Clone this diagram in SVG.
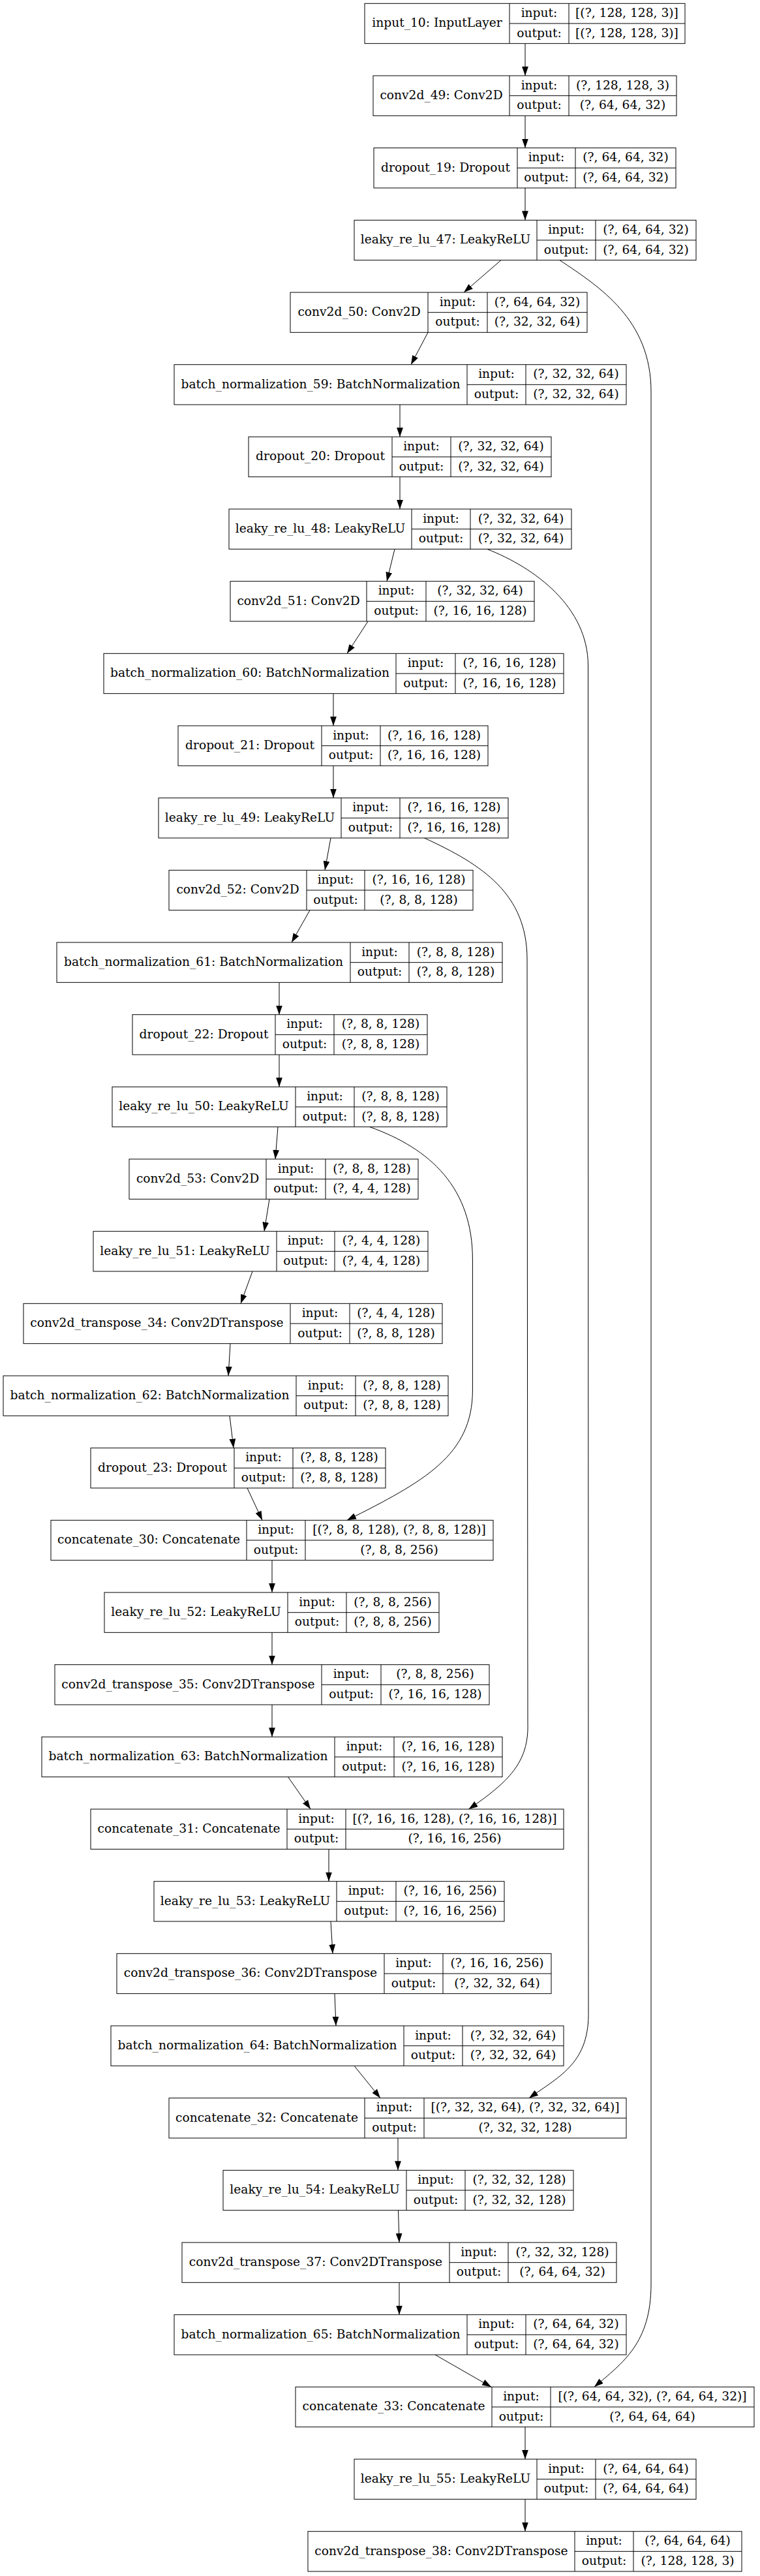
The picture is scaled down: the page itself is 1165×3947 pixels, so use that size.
<svg xmlns="http://www.w3.org/2000/svg" width="1165" height="3947" viewBox="0 0 1165 3947">
<style>
.b{fill:#fff;stroke:#000;stroke-width:1}
.d{fill:none;stroke:#000;stroke-width:1}
.t{font-family:"DejaVu Serif","Liberation Serif",serif;font-size:18.67px;text-anchor:middle;fill:#000}
.e{fill:none;stroke:#000;stroke-width:1;marker-end:url(#ah)}
</style>
<defs>
<marker id="ah" markerUnits="userSpaceOnUse" markerWidth="14" markerHeight="10" viewBox="0 0 13.33 9.33" refX="13.33" refY="4.67" orient="auto">
<path d="M0,0 L13.33,4.67 L0,9.33 z" fill="#000"/>
</marker>
</defs>
<rect width="1165" height="3947" fill="#fff"/>

<g id="edges">
<path class="e" d="M805 66.67V116"/>
<path class="e" d="M805 177.33V226.67"/>
<path class="e" d="M805 288V337.33"/>
<path class="e" d="M768 398.67L711 448"/>
<path class="e" d="M656 509.33L630 558.67"/>
<path class="e" d="M613 620V669.33"/>
<path class="e" d="M613 730.67V780"/>
<path class="e" d="M605 841.33L593 890.67"/>
<path class="e" d="M564 952L532 1001.33"/>
<path class="e" d="M511 1062.67V1112"/>
<path class="e" d="M511 1173.33V1222.67"/>
<path class="e" d="M507 1284L498 1333.33"/>
<path class="e" d="M475 1394.67L447 1444"/>
<path class="e" d="M428 1505.33V1554.67"/>
<path class="e" d="M428 1616V1665.33"/>
<path class="e" d="M426 1726.67L422 1776"/>
<path class="e" d="M413 1837.33L405 1886.67"/>
<path class="e" d="M387 1948L369 1997.33"/>
<path class="e" d="M353 2058.67L350 2108"/>
<path class="e" d="M352 2169.33L358 2218.67"/>
<path class="e" d="M379 2280L402 2329.33"/>
<path class="e" d="M417 2390.67V2440"/>
<path class="e" d="M417 2501.33V2550.67"/>
<path class="e" d="M417 2612V2661.33"/>
<path class="e" d="M441.5 2722.67L476 2772"/>
<path class="e" d="M504 2833.33V2882.67"/>
<path class="e" d="M507 2944L510 2993.33"/>
<path class="e" d="M513 3054.67L515 3104"/>
<path class="e" d="M543 3165.33L583 3214.67"/>
<path class="e" d="M610 3276V3325.33"/>
<path class="e" d="M610.5 3386.67L612 3436"/>
<path class="e" d="M612 3497.33V3546.67"/>
<path class="e" d="M667 3608L753 3657.33"/>
<path class="e" d="M805 3718.67V3768"/>
<path class="e" d="M805 3829.33V3878.67"/>
<path class="e" d="M858 398.67C920 440 998 490 998 600L998 3500C998 3590 955 3620 911 3657.33"/>
<path class="e" d="M746.7 841.33C820 870 901.5 930 901.5 1020L902 3080C904 3160 860 3180 811 3214.67"/>
<path class="e" d="M650.4 1284C740 1325 808 1370 808 1470L809 2640C811 2700 780 2730 718.5 2772"/>
<path class="e" d="M566.7 1726.67C660 1760 724.4 1820 724.4 1930L724.4 2130C724.4 2230 650 2270 532 2329.33"/>
</g>

<g id="input_10" transform="translate(0,5.33)"><rect class="b" x="559" y="0" width="491" height="61.33"/><path class="d" d="M781 0V61.33M872 0V61.33M781 30.67H1050"/><text class="t" x="670" y="36">input_10: InputLayer</text><text class="t" x="826.5" y="20.6">input:</text><text class="t" x="826.5" y="51.3">output:</text><text class="t" x="961" y="20.6">[(?, 128, 128, 3)]</text><text class="t" x="961" y="51.3">[(?, 128, 128, 3)]</text></g>
<g id="conv2d_49" transform="translate(0,116)"><rect class="b" x="572" y="0" width="465" height="61.33"/><path class="d" d="M781 0V61.33M872 0V61.33M781 30.67H1037"/><text class="t" x="676.5" y="36">conv2d_49: Conv2D</text><text class="t" x="826.5" y="20.6">input:</text><text class="t" x="826.5" y="51.3">output:</text><text class="t" x="954.5" y="20.6">(?, 128, 128, 3)</text><text class="t" x="954.5" y="51.3">(?, 64, 64, 32)</text></g>
<g id="dropout_19" transform="translate(0,226.67)"><rect class="b" x="573" y="0" width="463" height="61.33"/><path class="d" d="M793 0V61.33M882 0V61.33M793 30.67H1036"/><text class="t" x="683" y="36">dropout_19: Dropout</text><text class="t" x="837.5" y="20.6">input:</text><text class="t" x="837.5" y="51.3">output:</text><text class="t" x="959" y="20.6">(?, 64, 64, 32)</text><text class="t" x="959" y="51.3">(?, 64, 64, 32)</text></g>
<g id="leaky_re_lu_47" transform="translate(0,337.33)"><rect class="b" x="543" y="0" width="524" height="61.33"/><path class="d" d="M823 0V61.33M913 0V61.33M823 30.67H1067"/><text class="t" x="683" y="36">leaky_re_lu_47: LeakyReLU</text><text class="t" x="868" y="20.6">input:</text><text class="t" x="868" y="51.3">output:</text><text class="t" x="990" y="20.6">(?, 64, 64, 32)</text><text class="t" x="990" y="51.3">(?, 64, 64, 32)</text></g>
<g id="conv2d_50" transform="translate(0,448)"><rect class="b" x="445" y="0" width="455" height="61.33"/><path class="d" d="M656 0V61.33M747 0V61.33M656 30.67H900"/><text class="t" x="550.5" y="36">conv2d_50: Conv2D</text><text class="t" x="701.5" y="20.6">input:</text><text class="t" x="701.5" y="51.3">output:</text><text class="t" x="823.5" y="20.6">(?, 64, 64, 32)</text><text class="t" x="823.5" y="51.3">(?, 32, 32, 64)</text></g>
<g id="batch_normalization_59" transform="translate(0,558.67)"><rect class="b" x="267" y="0" width="693" height="61.33"/><path class="d" d="M716 0V61.33M806 0V61.33M716 30.67H960"/><text class="t" x="491.5" y="36">batch_normalization_59: BatchNormalization</text><text class="t" x="761" y="20.6">input:</text><text class="t" x="761" y="51.3">output:</text><text class="t" x="883" y="20.6">(?, 32, 32, 64)</text><text class="t" x="883" y="51.3">(?, 32, 32, 64)</text></g>
<g id="dropout_20" transform="translate(0,669.33)"><rect class="b" x="381" y="0" width="464" height="61.33"/><path class="d" d="M601 0V61.33M691 0V61.33M601 30.67H845"/><text class="t" x="491" y="36">dropout_20: Dropout</text><text class="t" x="646" y="20.6">input:</text><text class="t" x="646" y="51.3">output:</text><text class="t" x="768" y="20.6">(?, 32, 32, 64)</text><text class="t" x="768" y="51.3">(?, 32, 32, 64)</text></g>
<g id="leaky_re_lu_48" transform="translate(0,780)"><rect class="b" x="351" y="0" width="525" height="61.33"/><path class="d" d="M631 0V61.33M721 0V61.33M631 30.67H876"/><text class="t" x="491" y="36">leaky_re_lu_48: LeakyReLU</text><text class="t" x="676" y="20.6">input:</text><text class="t" x="676" y="51.3">output:</text><text class="t" x="798.5" y="20.6">(?, 32, 32, 64)</text><text class="t" x="798.5" y="51.3">(?, 32, 32, 64)</text></g>
<g id="conv2d_51" transform="translate(0,890.67)"><rect class="b" x="353" y="0" width="466" height="61.33"/><path class="d" d="M562 0V61.33M653 0V61.33M562 30.67H819"/><text class="t" x="457.5" y="36">conv2d_51: Conv2D</text><text class="t" x="607.5" y="20.6">input:</text><text class="t" x="607.5" y="51.3">output:</text><text class="t" x="736" y="20.6">(?, 32, 32, 64)</text><text class="t" x="736" y="51.3">(?, 16, 16, 128)</text></g>
<g id="batch_normalization_60" transform="translate(0,1001.33)"><rect class="b" x="159" y="0" width="705" height="61.33"/><path class="d" d="M607 0V61.33M698 0V61.33M607 30.67H864"/><text class="t" x="383" y="36">batch_normalization_60: BatchNormalization</text><text class="t" x="652.5" y="20.6">input:</text><text class="t" x="652.5" y="51.3">output:</text><text class="t" x="781" y="20.6">(?, 16, 16, 128)</text><text class="t" x="781" y="51.3">(?, 16, 16, 128)</text></g>
<g id="dropout_21" transform="translate(0,1112)"><rect class="b" x="273" y="0" width="475" height="61.33"/><path class="d" d="M493 0V61.33M583 0V61.33M493 30.67H748"/><text class="t" x="383" y="36">dropout_21: Dropout</text><text class="t" x="538" y="20.6">input:</text><text class="t" x="538" y="51.3">output:</text><text class="t" x="665.5" y="20.6">(?, 16, 16, 128)</text><text class="t" x="665.5" y="51.3">(?, 16, 16, 128)</text></g>
<g id="leaky_re_lu_49" transform="translate(0,1222.67)"><rect class="b" x="243" y="0" width="536" height="61.33"/><path class="d" d="M523 0V61.33M613 0V61.33M523 30.67H779"/><text class="t" x="383" y="36">leaky_re_lu_49: LeakyReLU</text><text class="t" x="568" y="20.6">input:</text><text class="t" x="568" y="51.3">output:</text><text class="t" x="696" y="20.6">(?, 16, 16, 128)</text><text class="t" x="696" y="51.3">(?, 16, 16, 128)</text></g>
<g id="conv2d_52" transform="translate(0,1333.33)"><rect class="b" x="259" y="0" width="466" height="61.33"/><path class="d" d="M470 0V61.33M559 0V61.33M470 30.67H725"/><text class="t" x="364.5" y="36">conv2d_52: Conv2D</text><text class="t" x="514.5" y="20.6">input:</text><text class="t" x="514.5" y="51.3">output:</text><text class="t" x="642" y="20.6">(?, 16, 16, 128)</text><text class="t" x="642" y="51.3">(?, 8, 8, 128)</text></g>
<g id="batch_normalization_61" transform="translate(0,1444)"><rect class="b" x="87" y="0" width="683" height="61.33"/><path class="d" d="M537 0V61.33M627 0V61.33M537 30.67H770"/><text class="t" x="312" y="36">batch_normalization_61: BatchNormalization</text><text class="t" x="582" y="20.6">input:</text><text class="t" x="582" y="51.3">output:</text><text class="t" x="698.5" y="20.6">(?, 8, 8, 128)</text><text class="t" x="698.5" y="51.3">(?, 8, 8, 128)</text></g>
<g id="dropout_22" transform="translate(0,1554.67)"><rect class="b" x="203" y="0" width="452" height="61.33"/><path class="d" d="M422 0V61.33M512 0V61.33M422 30.67H655"/><text class="t" x="312.5" y="36">dropout_22: Dropout</text><text class="t" x="467" y="20.6">input:</text><text class="t" x="467" y="51.3">output:</text><text class="t" x="583.5" y="20.6">(?, 8, 8, 128)</text><text class="t" x="583.5" y="51.3">(?, 8, 8, 128)</text></g>
<g id="leaky_re_lu_50" transform="translate(0,1665.33)"><rect class="b" x="172" y="0" width="513" height="61.33"/><path class="d" d="M453 0V61.33M543 0V61.33M453 30.67H685"/><text class="t" x="312.5" y="36">leaky_re_lu_50: LeakyReLU</text><text class="t" x="498" y="20.6">input:</text><text class="t" x="498" y="51.3">output:</text><text class="t" x="614" y="20.6">(?, 8, 8, 128)</text><text class="t" x="614" y="51.3">(?, 8, 8, 128)</text></g>
<g id="conv2d_53" transform="translate(0,1776)"><rect class="b" x="198" y="0" width="443" height="61.33"/><path class="d" d="M408 0V61.33M499 0V61.33M408 30.67H641"/><text class="t" x="303" y="36">conv2d_53: Conv2D</text><text class="t" x="453.5" y="20.6">input:</text><text class="t" x="453.5" y="51.3">output:</text><text class="t" x="570" y="20.6">(?, 8, 8, 128)</text><text class="t" x="570" y="51.3">(?, 4, 4, 128)</text></g>
<g id="leaky_re_lu_51" transform="translate(0,1886.67)"><rect class="b" x="143" y="0" width="513" height="61.33"/><path class="d" d="M424 0V61.33M513 0V61.33M424 30.67H656"/><text class="t" x="283.5" y="36">leaky_re_lu_51: LeakyReLU</text><text class="t" x="468.5" y="20.6">input:</text><text class="t" x="468.5" y="51.3">output:</text><text class="t" x="584.5" y="20.6">(?, 4, 4, 128)</text><text class="t" x="584.5" y="51.3">(?, 4, 4, 128)</text></g>
<g id="conv2d_transpose_34" transform="translate(0,1997.33)"><rect class="b" x="36" y="0" width="642" height="61.33"/><path class="d" d="M445 0V61.33M536 0V61.33M445 30.67H678"/><text class="t" x="240.5" y="36">conv2d_transpose_34: Conv2DTranspose</text><text class="t" x="490.5" y="20.6">input:</text><text class="t" x="490.5" y="51.3">output:</text><text class="t" x="607" y="20.6">(?, 4, 4, 128)</text><text class="t" x="607" y="51.3">(?, 8, 8, 128)</text></g>
<g id="batch_normalization_62" transform="translate(0,2108)"><rect class="b" x="5" y="0" width="682" height="61.33"/><path class="d" d="M454 0V61.33M545 0V61.33M454 30.67H687"/><text class="t" x="229.5" y="36">batch_normalization_62: BatchNormalization</text><text class="t" x="499.5" y="20.6">input:</text><text class="t" x="499.5" y="51.3">output:</text><text class="t" x="616" y="20.6">(?, 8, 8, 128)</text><text class="t" x="616" y="51.3">(?, 8, 8, 128)</text></g>
<g id="dropout_23" transform="translate(0,2218.67)"><rect class="b" x="139" y="0" width="452" height="61.33"/><path class="d" d="M359 0V61.33M449 0V61.33M359 30.67H591"/><text class="t" x="249" y="36">dropout_23: Dropout</text><text class="t" x="404" y="20.6">input:</text><text class="t" x="404" y="51.3">output:</text><text class="t" x="520" y="20.6">(?, 8, 8, 128)</text><text class="t" x="520" y="51.3">(?, 8, 8, 128)</text></g>
<g id="concatenate_30" transform="translate(0,2329.33)"><rect class="b" x="78" y="0" width="678" height="61.33"/><path class="d" d="M378 0V61.33M468 0V61.33M378 30.67H756"/><text class="t" x="228" y="36">concatenate_30: Concatenate</text><text class="t" x="423" y="20.6">input:</text><text class="t" x="423" y="51.3">output:</text><text class="t" x="612" y="20.6">[(?, 8, 8, 128), (?, 8, 8, 128)]</text><text class="t" x="612" y="51.3">(?, 8, 8, 256)</text></g>
<g id="leaky_re_lu_52" transform="translate(0,2440)"><rect class="b" x="160" y="0" width="513" height="61.33"/><path class="d" d="M441 0V61.33M531 0V61.33M441 30.67H673"/><text class="t" x="300.5" y="36">leaky_re_lu_52: LeakyReLU</text><text class="t" x="486" y="20.6">input:</text><text class="t" x="486" y="51.3">output:</text><text class="t" x="602" y="20.6">(?, 8, 8, 256)</text><text class="t" x="602" y="51.3">(?, 8, 8, 256)</text></g>
<g id="conv2d_transpose_35" transform="translate(0,2550.67)"><rect class="b" x="84" y="0" width="666" height="61.33"/><path class="d" d="M493 0V61.33M584 0V61.33M493 30.67H750"/><text class="t" x="288.5" y="36">conv2d_transpose_35: Conv2DTranspose</text><text class="t" x="538.5" y="20.6">input:</text><text class="t" x="538.5" y="51.3">output:</text><text class="t" x="667" y="20.6">(?, 8, 8, 256)</text><text class="t" x="667" y="51.3">(?, 16, 16, 128)</text></g>
<g id="batch_normalization_63" transform="translate(0,2661.33)"><rect class="b" x="64" y="0" width="706" height="61.33"/><path class="d" d="M513 0V61.33M604 0V61.33M513 30.67H770"/><text class="t" x="288.5" y="36">batch_normalization_63: BatchNormalization</text><text class="t" x="558.5" y="20.6">input:</text><text class="t" x="558.5" y="51.3">output:</text><text class="t" x="687" y="20.6">(?, 16, 16, 128)</text><text class="t" x="687" y="51.3">(?, 16, 16, 128)</text></g>
<g id="concatenate_31" transform="translate(0,2772)"><rect class="b" x="139" y="0" width="725" height="61.33"/><path class="d" d="M440 0V61.33M530 0V61.33M440 30.67H864"/><text class="t" x="289.5" y="36">concatenate_31: Concatenate</text><text class="t" x="485" y="20.6">input:</text><text class="t" x="485" y="51.3">output:</text><text class="t" x="697" y="20.6">[(?, 16, 16, 128), (?, 16, 16, 128)]</text><text class="t" x="697" y="51.3">(?, 16, 16, 256)</text></g>
<g id="leaky_re_lu_53" transform="translate(0,2882.67)"><rect class="b" x="236" y="0" width="537" height="61.33"/><path class="d" d="M516 0V61.33M607 0V61.33M516 30.67H773"/><text class="t" x="376" y="36">leaky_re_lu_53: LeakyReLU</text><text class="t" x="561.5" y="20.6">input:</text><text class="t" x="561.5" y="51.3">output:</text><text class="t" x="690" y="20.6">(?, 16, 16, 256)</text><text class="t" x="690" y="51.3">(?, 16, 16, 256)</text></g>
<g id="conv2d_transpose_36" transform="translate(0,2993.33)"><rect class="b" x="179" y="0" width="666" height="61.33"/><path class="d" d="M589 0V61.33M679 0V61.33M589 30.67H845"/><text class="t" x="384" y="36">conv2d_transpose_36: Conv2DTranspose</text><text class="t" x="634" y="20.6">input:</text><text class="t" x="634" y="51.3">output:</text><text class="t" x="762" y="20.6">(?, 16, 16, 256)</text><text class="t" x="762" y="51.3">(?, 32, 32, 64)</text></g>
<g id="batch_normalization_64" transform="translate(0,3104)"><rect class="b" x="170" y="0" width="694" height="61.33"/><path class="d" d="M619 0V61.33M709 0V61.33M619 30.67H864"/><text class="t" x="394.5" y="36">batch_normalization_64: BatchNormalization</text><text class="t" x="664" y="20.6">input:</text><text class="t" x="664" y="51.3">output:</text><text class="t" x="786.5" y="20.6">(?, 32, 32, 64)</text><text class="t" x="786.5" y="51.3">(?, 32, 32, 64)</text></g>
<g id="concatenate_32" transform="translate(0,3214.67)"><rect class="b" x="259" y="0" width="701" height="61.33"/><path class="d" d="M559 0V61.33M650 0V61.33M559 30.67H960"/><text class="t" x="409" y="36">concatenate_32: Concatenate</text><text class="t" x="604.5" y="20.6">input:</text><text class="t" x="604.5" y="51.3">output:</text><text class="t" x="805" y="20.6">[(?, 32, 32, 64), (?, 32, 32, 64)]</text><text class="t" x="805" y="51.3">(?, 32, 32, 128)</text></g>
<g id="leaky_re_lu_54" transform="translate(0,3325.33)"><rect class="b" x="342" y="0" width="537" height="61.33"/><path class="d" d="M623 0V61.33M713 0V61.33M623 30.67H879"/><text class="t" x="482.5" y="36">leaky_re_lu_54: LeakyReLU</text><text class="t" x="668" y="20.6">input:</text><text class="t" x="668" y="51.3">output:</text><text class="t" x="796" y="20.6">(?, 32, 32, 128)</text><text class="t" x="796" y="51.3">(?, 32, 32, 128)</text></g>
<g id="conv2d_transpose_37" transform="translate(0,3436)"><rect class="b" x="279" y="0" width="666" height="61.33"/><path class="d" d="M689 0V61.33M779 0V61.33M689 30.67H945"/><text class="t" x="484" y="36">conv2d_transpose_37: Conv2DTranspose</text><text class="t" x="734" y="20.6">input:</text><text class="t" x="734" y="51.3">output:</text><text class="t" x="862" y="20.6">(?, 32, 32, 128)</text><text class="t" x="862" y="51.3">(?, 64, 64, 32)</text></g>
<g id="batch_normalization_65" transform="translate(0,3546.67)"><rect class="b" x="267" y="0" width="693" height="61.33"/><path class="d" d="M716 0V61.33M806 0V61.33M716 30.67H960"/><text class="t" x="491.5" y="36">batch_normalization_65: BatchNormalization</text><text class="t" x="761" y="20.6">input:</text><text class="t" x="761" y="51.3">output:</text><text class="t" x="883" y="20.6">(?, 64, 64, 32)</text><text class="t" x="883" y="51.3">(?, 64, 64, 32)</text></g>
<g id="concatenate_33" transform="translate(0,3657.33)"><rect class="b" x="453" y="0" width="703" height="61.33"/><path class="d" d="M754 0V61.33M844 0V61.33M754 30.67H1156"/><text class="t" x="603.5" y="36">concatenate_33: Concatenate</text><text class="t" x="799" y="20.6">input:</text><text class="t" x="799" y="51.3">output:</text><text class="t" x="1000" y="20.6">[(?, 64, 64, 32), (?, 64, 64, 32)]</text><text class="t" x="1000" y="51.3">(?, 64, 64, 64)</text></g>
<g id="leaky_re_lu_55" transform="translate(0,3768)"><rect class="b" x="543" y="0" width="524" height="61.33"/><path class="d" d="M823 0V61.33M913 0V61.33M823 30.67H1067"/><text class="t" x="683" y="36">leaky_re_lu_55: LeakyReLU</text><text class="t" x="868" y="20.6">input:</text><text class="t" x="868" y="51.3">output:</text><text class="t" x="990" y="20.6">(?, 64, 64, 64)</text><text class="t" x="990" y="51.3">(?, 64, 64, 64)</text></g>
<g id="conv2d_transpose_38" transform="translate(0,3878.67)"><rect class="b" x="472" y="0" width="665" height="61.33"/><path class="d" d="M881 0V61.33M971 0V61.33M881 30.67H1137"/><text class="t" x="676.5" y="36">conv2d_transpose_38: Conv2DTranspose</text><text class="t" x="926" y="20.6">input:</text><text class="t" x="926" y="51.3">output:</text><text class="t" x="1054" y="20.6">(?, 64, 64, 64)</text><text class="t" x="1054" y="51.3">(?, 128, 128, 3)</text></g>
</svg>
